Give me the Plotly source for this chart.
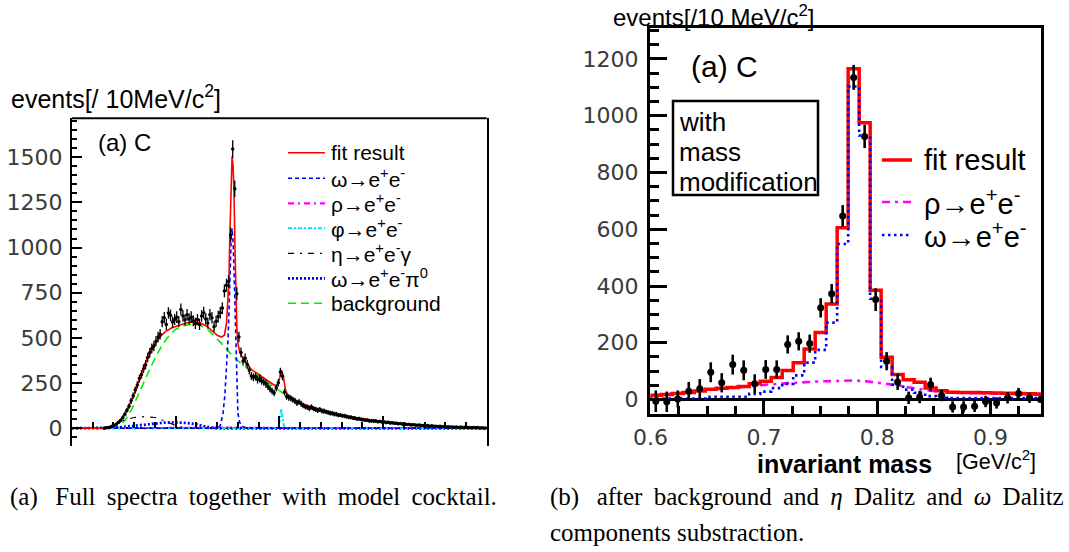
import plotly.graph_objects as go

W, H = 1069, 552
def px(x):
    return x / W
def py(y):
    return 1 - y / H

# ---------------- LEFT PANEL DATA (full spectrum, 10 MeV bins) ----------------
left_bin_start = 0.15
left_bin_width = 0.01
left_counts = [
    1, 3, 4, 8, 12, 17, 24, 33, 44, 60,
    78, 100, 122, 152, 180, 212, 240, 275, 298, 330,
    352, 392, 418, 442, 455, 482, 505, 520, 590, 612,
    575, 638, 625, 588, 602, 615, 590, 657, 622, 600,
    628, 605, 615, 595, 580, 602, 575, 622, 640, 605,
    582, 628, 612, 562, 592, 618, 640, 665, 760, 792,
    812, 1070, 1545, 1325, 745, 505, 420, 372, 388, 355,
    322, 290, 282, 286, 270, 276, 262, 256, 246, 232,
    218, 206, 196, 224, 252, 312, 288, 200, 176, 170,
    166, 158, 152, 140, 146, 136, 126, 120, 116, 110,
    118, 108, 104, 99, 104, 96, 95, 91, 88, 84,
    83, 79, 78, 73, 73, 69, 68, 65, 61, 61,
    57, 56, 52, 53, 49, 48, 45, 45, 41, 42,
    40, 41, 37, 38, 35, 36, 32, 33, 30, 31,
    28, 28, 25, 26, 23, 24, 21, 22, 19, 20,
    18, 17, 18, 15, 16, 14, 15, 12, 14, 11,
    12, 10, 11, 9, 10, 8, 9, 7, 8, 6,
    7, 5, 7, 5, 6, 4, 5, 3, 5, 3,
    4, 2, 3, 2, 2,
]
left_errors = [
    2, 3, 4, 5, 6, 7, 8, 9, 10, 11,
    13, 14, 15, 17, 18, 19, 20, 22, 23, 24,
    25, 26, 27, 27, 28, 28, 29, 29, 31, 32,
    31, 32, 32, 31, 31, 32, 31, 33, 32, 31,
    32, 31, 32, 31, 31, 31, 31, 32, 32, 31,
    31, 32, 32, 30, 31, 32, 32, 33, 35, 36,
    36, 41, 49, 46, 35, 29, 27, 25, 26, 25,
    24, 22, 22, 22, 22, 22, 21, 21, 21, 20,
    20, 19, 19, 20, 21, 23, 22, 19, 18, 18,
    17, 17, 17, 16, 16, 16, 15, 15, 15, 15,
    15, 14, 14, 14, 14, 14, 14, 13, 13, 13,
    13, 13, 13, 12, 12, 12, 12, 12, 11, 11,
    11, 11, 11, 11, 10, 10, 10, 10, 10, 10,
    10, 10, 9, 9, 9, 9, 9, 9, 9, 9,
    8, 8, 8, 8, 8, 8, 8, 8, 7, 7,
    7, 7, 7, 7, 7, 6, 6, 6, 6, 6,
    6, 6, 6, 6, 6, 5, 5, 5, 5, 5,
    5, 5, 5, 5, 5, 4, 4, 4, 4, 4,
    4, 3, 4, 3, 3,
]
left_x = [round(left_bin_start + left_bin_width * (i + 0.5), 4) for i in range(len(left_counts))]

fit_x = [0.0, 0.15, 0.18, 0.21, 0.24, 0.27, 0.30, 0.33, 0.36, 0.39, 0.42, 0.45, 0.48, 0.52,
         0.56, 0.59, 0.62, 0.65, 0.68, 0.70, 0.72, 0.735, 0.745, 0.75, 0.757, 0.761, 0.765,
         0.769, 0.772, 0.777, 0.781, 0.786, 0.79, 0.795, 0.80, 0.81, 0.82, 0.84, 0.87, 0.90,
         0.93, 0.96, 0.985, 0.995, 1.005, 1.011, 1.02, 1.03, 1.04, 1.07, 1.10, 1.15, 1.20,
         1.25, 1.30, 1.35, 1.40, 1.45, 1.50, 1.55, 1.60, 1.65, 1.70, 1.75, 1.80, 1.85, 1.90,
         1.95, 2.0]
fit_y = [0, 0, 5, 20, 55, 110, 190, 290, 380, 450, 500, 535, 555, 572,
         585, 590, 582, 565, 535, 515, 505, 515, 580, 660, 820, 1060, 1280,
         1440, 1505, 1450, 1320, 1000, 720, 560, 470, 420, 395, 360, 320, 300,
         275, 250, 232, 248, 300, 322, 280, 210, 185, 160, 140, 120, 103,
         87, 73, 62, 52, 43, 36, 29, 24, 19, 15, 12, 10, 7, 6,
         4, 3]

bkg_x = [0.0, 0.2, 0.23, 0.26, 0.29, 0.32, 0.35, 0.38, 0.41, 0.44, 0.47, 0.50, 0.54, 0.58,
         0.62, 0.66, 0.70, 0.74, 0.78, 0.82, 0.86, 0.90, 0.94, 0.98, 1.02, 1.06, 1.10, 1.15,
         1.20, 1.25, 1.30, 1.35, 1.40, 1.45, 1.50, 1.55, 1.60, 1.65, 1.70, 1.75, 1.80, 1.85,
         1.90, 1.95, 2.0]
bkg_y = [0, 0, 15, 50, 110, 190, 270, 340, 410, 470, 515, 548, 568, 578,
         570, 540, 495, 445, 395, 355, 322, 292, 260, 225, 193, 165, 140, 120,
         103, 87, 73, 62, 52, 43, 36, 29, 24, 19, 15, 12, 10, 7,
         6, 4, 3]

omega_x = [0.0, 0.70, 0.715, 0.728, 0.737, 0.745, 0.752, 0.757, 0.763, 0.768, 0.772, 0.777,
           0.782, 0.786, 0.79, 0.794, 0.80, 0.808, 0.816, 0.83, 0.85, 2.0]
omega_y = [0, 0, 15, 80, 180, 320, 480, 640, 900, 1060, 1106, 1030,
           850, 640, 450, 300, 85, 35, 20, 5, 0, 0]

rho_x = [0.0, 0.3, 0.6, 0.77, 1.0, 1.5, 2.0]
rho_y = [0, 2, 5, 6, 3, 1, 0]

phi_x = [0.0, 0.98, 0.995, 1.003, 1.009, 1.015, 1.022, 1.03, 2.0]
phi_y = [0, 0, 10, 50, 110, 60, 15, 0, 0]

eta_x = [0.0, 0.15, 0.2, 0.25, 0.3, 0.35, 0.4, 0.45, 0.5, 0.55, 2.0]
eta_y = [0, 0, 20, 45, 60, 65, 60, 40, 15, 0, 0]

omdal_x = [0.0, 0.15, 0.2, 0.25, 0.3, 0.35, 0.4, 0.45, 0.5, 0.55, 0.6, 0.65, 0.7, 2.0]
omdal_y = [0, 0, 3, 8, 15, 22, 28, 32, 33, 30, 22, 8, 0, 0]

# ---------------- RIGHT PANEL DATA (after subtraction) ----------------
right_centers = [0.6046, 0.6143, 0.6240, 0.6337, 0.6434, 0.6531, 0.6628, 0.6725, 0.6822,
                 0.6919, 0.7016, 0.7113, 0.7210, 0.7307, 0.7404, 0.7501, 0.7598, 0.7695,
                 0.7792, 0.7889, 0.7986, 0.8083, 0.8180, 0.8277, 0.8374, 0.8471, 0.8568,
                 0.8665, 0.8762, 0.8859, 0.8956, 0.9053, 0.9150, 0.9247, 0.9344, 0.9441]
right_bin_width = 0.0097
right_counts = [-6, -8, 2, 29, 38, 96, 59, 123, 103, 56, 106, 106, 194, 205, 197, 323, 373,
                647, 1135, 927, 352, 135, 62, 6, 9, 53, 14, -26, -26, -24, -7, -12, 6, 21,
                6, 0]
right_errors = [38, 36, 30, 33, 34, 35, 34, 35, 35, 33, 33, 32, 32, 32, 32, 34, 34, 38, 44,
                41, 40, 32, 28, 22, 22, 24, 20, 20, 20, 20, 20, 20, 20, 20, 18, 8]
right_fit = [15, 18, 21, 25, 30, 36, 40, 42, 46, 56, 64, 78, 102, 130, 178, 236, 337, 605,
             1165, 975, 385, 149, 88, 70, 61, 41, 31, 26, 25, 25, 24, 23, 22, 21, 20, 19]
right_omega = [3, 3, 3, 3, 3, 10, 10, 10, 10, 20, 28, 40, 55, 85, 130, 175, 271, 548, 1103,
               930, 355, 115, 52, 35, 24, 12, 6, 5, 5, 5, 5, 5, 5, 5, 5, 5]
right_rho = [15, 18, 22, 26, 30, 34, 38, 42, 46, 49, 52, 55, 58, 60, 62, 64, 65, 66, 67, 65,
             60, 56, 50, 43, 36, 31, 27, 24, 23, 22, 21, 21, 20, 20, 20, 20]

x_ticks_right = [0.6, 0.7, 0.8, 0.9]
y_ticks_right = [0, 200, 400, 600, 800, 1000, 1200]
y_ticks_left = [0, 250, 500, 750, 1000, 1250, 1500]

RED = "#ff0000"
BLUE = "#0000ff"
MAG = "#ff00ff"
CYAN = "#00e5ff"
GREEN = "#00ee00"

fig = go.Figure()

# left panel curves
fig.add_trace(go.Scatter(x=bkg_x, y=bkg_y, mode="lines", xaxis="x", yaxis="y",
                         line=dict(color=GREEN, width=1.6, dash="8px,5px")))
fig.add_trace(go.Scatter(x=rho_x, y=rho_y, mode="lines", xaxis="x", yaxis="y",
                         line=dict(color=MAG, width=1.6, dash="6px,3px,2px,3px")))
fig.add_trace(go.Scatter(x=eta_x, y=eta_y, mode="lines", xaxis="x", yaxis="y",
                         line=dict(color="black", width=1.2, dash="6px,6px,2px,6px")))
fig.add_trace(go.Scatter(x=omdal_x, y=omdal_y, mode="lines", xaxis="x", yaxis="y",
                         line=dict(color=BLUE, width=2.8, dash="2px,2px")))
fig.add_trace(go.Scatter(x=phi_x, y=phi_y, mode="lines", xaxis="x", yaxis="y",
                         line=dict(color=CYAN, width=2, dash="4px,2px,2px,2px")))
fig.add_trace(go.Scatter(x=omega_x, y=omega_y, mode="lines", xaxis="x", yaxis="y",
                         line=dict(color=BLUE, width=1.6, dash="4px,3px")))
fig.add_trace(go.Scatter(x=fit_x, y=fit_y, mode="lines", xaxis="x", yaxis="y",
                         line=dict(color=RED, width=1.6)))
fig.add_trace(go.Scatter(x=left_x, y=left_counts, mode="markers", xaxis="x", yaxis="y",
                         marker=dict(color="black", size=3.5),
                         error_y=dict(type="data", array=left_errors, color="black",
                                      thickness=1.3, width=0),
                         error_x=dict(type="constant", value=left_bin_width / 2,
                                      color="black", thickness=1.3, width=0)))

# right panel curves (histogram steps)
half = right_bin_width / 2
step_x = [right_centers[0] - half] + right_centers + [right_centers[-1] + half]

def ext(vals):
    return [vals[0]] + vals + [vals[-1]]

fig.add_trace(go.Scatter(x=right_centers, y=right_rho, mode="lines", xaxis="x2", yaxis="y2",
                         line=dict(color=MAG, width=2.6, dash="8px,5px,3px,5px")))
fig.add_trace(go.Scatter(x=step_x, y=ext(right_fit), mode="lines", xaxis="x2", yaxis="y2",
                         line=dict(color=RED, width=3.5, shape="hvh")))
fig.add_trace(go.Scatter(x=step_x, y=ext(right_omega), mode="lines", xaxis="x2", yaxis="y2",
                         line=dict(color=BLUE, width=2.6, dash="2.5px,3.5px", shape="hvh")))
fig.add_trace(go.Scatter(x=right_centers, y=right_counts, mode="markers", xaxis="x2", yaxis="y2",
                         marker=dict(color="black", size=7),
                         error_y=dict(type="data", array=right_errors, color="black",
                                      thickness=2.6, width=0)))

TICKFONT = dict(family="DejaVu Sans, Liberation Sans, sans-serif", size=22, color="#3a3a3a")

fig.update_layout(
    width=W, height=H,
    margin=dict(l=0, r=0, t=0, b=0, pad=0, autoexpand=False),
    paper_bgcolor="white", plot_bgcolor="white",
    showlegend=False,
    xaxis=dict(domain=[px(72), px(486.7)], range=[0, 2.0], anchor="free",
               position=py(428.3), showgrid=False, zeroline=False, showline=False,
               ticks="inside", tick0=0, dtick=0.5, ticklen=12, tickwidth=1.5,
               tickcolor="black", showticklabels=False, automargin=False,
               minor=dict(ticks="inside", dtick=0.1, ticklen=6, tickwidth=1.5,
                          tickcolor="black")),
    yaxis=dict(domain=[py(446.4), py(118.3)], range=[-100, 1715], anchor="x",
               showgrid=False, zeroline=True, zerolinecolor="black", zerolinewidth=2,
               showline=True, mirror=True, linecolor="black", linewidth=2,
               ticks="inside", tickvals=y_ticks_left, ticklen=10, tickwidth=1.5,
               tickcolor="black", tickfont=TICKFONT, ticklabelstandoff=3, automargin=False,
               minor=dict(ticks="inside", dtick=50, ticklen=5, tickwidth=1.5,
                          tickcolor="black")),
    xaxis2=dict(domain=[px(650), px(1041)], range=[0.5995, 0.9445], anchor="y2",
                showgrid=False, zeroline=False, showline=True, mirror=True,
                linecolor="black", linewidth=3, automargin=False,
                ticks="inside", tickvals=x_ticks_right, ticktext=["0.6", "0.7", "0.8", "0.9"],
                ticklen=14, tickwidth=2.5, tickcolor="black", tickfont=TICKFONT,
                ticklabelstandoff=2,
                minor=dict(ticks="inside", dtick=0.025, tick0=0.6, ticklen=8, tickwidth=2.5,
                           tickcolor="black")),
    yaxis2=dict(domain=[py(414), py(28)], range=[-51, 1309], anchor="x2",
                showgrid=False, zeroline=True, zerolinecolor="black", zerolinewidth=3,
                showline=True, mirror=True, linecolor="black", linewidth=3,
                ticks="inside", tickvals=y_ticks_right, ticklen=17, tickwidth=2.5,
                tickcolor="black", tickfont=TICKFONT, ticklabelstandoff=4, automargin=False,
                minor=dict(ticks="inside", dtick=50, ticklen=9, tickwidth=2.5,
                           tickcolor="black")),
)

shapes = []
# left frame top line
shapes.append(dict(type="line", xref="x domain", yref="y domain", x0=0, x1=1, y0=1, y1=1,
                   line=dict(color="black", width=2)))

# left legend samples
left_rows = [152.7, 178.3, 203.3, 228.3, 253.3, 278.3, 303.3]
left_leg_styles = [
    dict(color=RED, width=1.6, dash="solid"),
    dict(color=BLUE, width=1.6, dash="4px,3px"),
    dict(color=MAG, width=2.2, dash="6px,4px,2px,4px"),
    dict(color=CYAN, width=2, dash="4px,2px,2px,2px"),
    dict(color="black", width=1.2, dash="6px,6px,2px,6px"),
    dict(color=BLUE, width=2.8, dash="2px,2px"),
    dict(color=GREEN, width=1.6, dash="8px,5px"),
]
for r, st in zip(left_rows, left_leg_styles):
    shapes.append(dict(type="line", xref="paper", yref="paper", x0=px(288), x1=px(325),
                       y0=py(r), y1=py(r), line=st))

# right legend samples
right_rows = [160, 202, 235]
right_leg_styles = [
    dict(color=RED, width=3.5, dash="solid"),
    dict(color=MAG, width=2.6, dash="8px,5px,3px,5px"),
    dict(color=BLUE, width=2.6, dash="2.5px,3.5px"),
]
for r, st in zip(right_rows, right_leg_styles):
    shapes.append(dict(type="line", xref="paper", yref="paper", x0=px(882), x1=px(912),
                       y0=py(r), y1=py(r), line=st))

# "with mass modification" box
shapes.append(dict(type="rect", xref="paper", yref="paper", x0=px(673), x1=px(818),
                   y0=py(195), y1=py(101), line=dict(color="black", width=2.5)))
fig.update_layout(shapes=shapes)

SANS = "Liberation Sans, Arial, sans-serif"
SERIF = "Liberation Serif, Times New Roman, serif"
ann = []
def txt(x, y, s, size, family=SANS, xanchor="left", color="black"):
    ann.append(dict(x=px(x), y=py(y), xref="paper", yref="paper", text=s, showarrow=False,
                    xanchor=xanchor, yanchor="middle", font=dict(family=family, size=size,
                                                                 color=color)))

ARROW = "→"

# left panel texts
txt(9, 97, "events[/ 10MeV/c<sup>2</sup>]", 25)
txt(96, 142, "(a) C", 24)
left_labels = ["fit result", "ω" + ARROW + "e<sup>+</sup>e<sup>-</sup>",
               "ρ" + ARROW + "e<sup>+</sup>e<sup>-</sup>",
               "φ" + ARROW + "e<sup>+</sup>e<sup>-</sup>",
               "η" + ARROW + "e<sup>+</sup>e<sup>-</sup>γ",
               "ω" + ARROW + "e<sup>+</sup>e<sup>-</sup>π<sup>0</sup>", "background"]
for r, s in zip(left_rows, left_labels):
    txt(329, r, s, 21)

# right panel texts
txt(611, 16, "events[/10 MeV/c<sup>2</sup>]", 24)
txt(689, 67, "(a) C", 30)
txt(677, 122, "with", 26)
txt(677, 152, "mass", 26)
txt(677, 182, "modification", 26)
right_labels = ["fit result", "ρ" + ARROW + "e<sup>+</sup>e<sup>-</sup>",
                "ω" + ARROW + "e<sup>+</sup>e<sup>-</sup>"]
for r, s in zip(right_rows, right_labels):
    txt(922, r, s, 29)
txt(755, 464, "<b>invariant mass</b>", 25)
txt(954, 460, "[GeV/c<sup>2</sup>]", 21.5)

# captions (first lines are justified in the reference, hence thin extra spaces)
TS = " \u2009"
txt(8, 497, TS.join(["(a) ", "Full", "spectra", "together", "with", "model", "cocktail."]),
    25, family=SERIF)
txt(548, 497, TS.join(["(b) ", "after", "background", "and", "<i>η</i>", "Dalitz", "and",
                       "<i>ω</i>", "Dalitz"]), 25, family=SERIF)
txt(548, 532, "components substraction.", 25, family=SERIF)

fig.update_layout(annotations=ann)
fig.write_html("out.html")
